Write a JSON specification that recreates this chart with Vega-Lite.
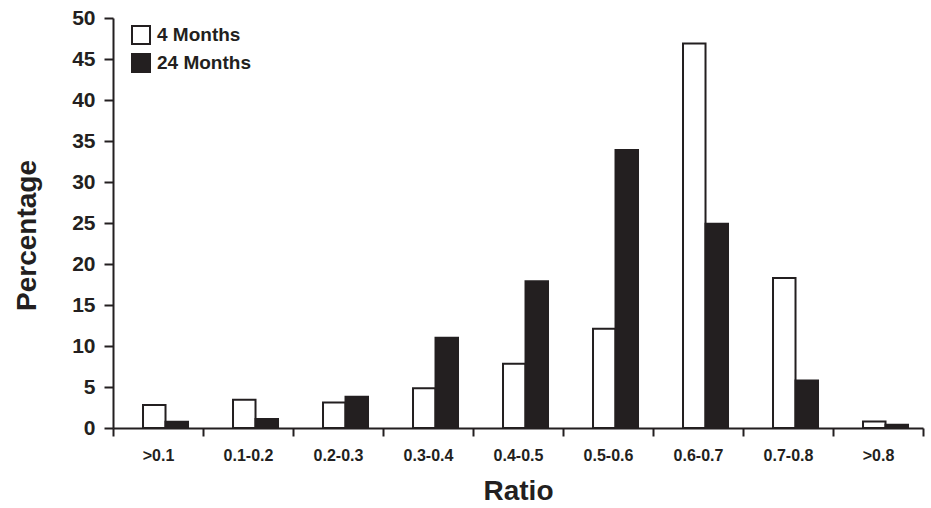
{
  "$schema": "https://vega.github.io/schema/vega-lite/v6.json",
  "width": 810,
  "height": 410,
  "autosize": {"type": "none"},
  "padding": {"left": 113, "top": 18, "right": 8, "bottom": 80},
  "background": "white",
  "config": {
    "view": {"stroke": null},
    "font": "Liberation Sans",
    "axis": {"grid": false, "domainColor": "#231f20", "tickColor": "#231f20", "domainWidth": 2, "tickWidth": 2, "labelColor": "#231f20", "titleColor": "#231f20", "labelFontWeight": "bold", "titleFontWeight": "bold", "labelFont": "Liberation Sans", "titleFont": "Liberation Sans"}
  },
  "data": {
    "values": [
      {"ratio": ">0.1", "group": "4 Months", "pct": 2.8},
      {"ratio": ">0.1", "group": "24 Months", "pct": 0.75},
      {"ratio": "0.1-0.2", "group": "4 Months", "pct": 3.45},
      {"ratio": "0.1-0.2", "group": "24 Months", "pct": 1.1},
      {"ratio": "0.2-0.3", "group": "4 Months", "pct": 3.1},
      {"ratio": "0.2-0.3", "group": "24 Months", "pct": 3.8},
      {"ratio": "0.3-0.4", "group": "4 Months", "pct": 4.85},
      {"ratio": "0.3-0.4", "group": "24 Months", "pct": 11},
      {"ratio": "0.4-0.5", "group": "4 Months", "pct": 7.85},
      {"ratio": "0.4-0.5", "group": "24 Months", "pct": 17.9},
      {"ratio": "0.5-0.6", "group": "4 Months", "pct": 12.1},
      {"ratio": "0.5-0.6", "group": "24 Months", "pct": 33.9},
      {"ratio": "0.6-0.7", "group": "4 Months", "pct": 46.9},
      {"ratio": "0.6-0.7", "group": "24 Months", "pct": 24.9},
      {"ratio": "0.7-0.8", "group": "4 Months", "pct": 18.3},
      {"ratio": "0.7-0.8", "group": "24 Months", "pct": 5.8},
      {"ratio": ">0.8", "group": "4 Months", "pct": 0.8},
      {"ratio": ">0.8", "group": "24 Months", "pct": 0.4}
    ]
  },
  "mark": {"type": "bar", "stroke": "#231f20", "strokeWidth": 2, "strokeJoin": "miter"},
  "encoding": {
    "x": {
      "field": "ratio",
      "type": "nominal",
      "sort": [">0.1", "0.1-0.2", "0.2-0.3", "0.3-0.4", "0.4-0.5", "0.5-0.6", "0.6-0.7", "0.7-0.8", ">0.8"],
      "scale": {"paddingInner": 0, "paddingOuter": 0},
      "axis": {"title": "Ratio", "labelAngle": 0, "tickBand": "extent", "tickSize": 8, "labelFontSize": 16, "labelPadding": 11, "titleFontSize": 28, "titlePadding": 14}
    },
    "xOffset": {
      "field": "group",
      "type": "nominal",
      "sort": ["4 Months", "24 Months"],
      "scale": {"paddingInner": 0, "paddingOuter": 1.31, "align": 0.667}
    },
    "y": {
      "field": "pct",
      "type": "quantitative",
      "scale": {"domain": [0, 50]},
      "axis": {"title": "Percentage", "values": [0, 5, 10, 15, 20, 25, 30, 35, 40, 45, 50], "tickSize": 9, "labelFontSize": 21, "labelPadding": 9, "titleFontSize": 28, "titlePadding": 30, "titleY": 217}
    },
    "color": {
      "field": "group",
      "type": "nominal",
      "sort": ["4 Months", "24 Months"],
      "scale": {"domain": ["4 Months", "24 Months"], "range": ["white", "#231f20"]},
      "legend": {
        "title": null,
        "orient": "none",
        "legendX": 18,
        "legendY": 7,
        "padding": 0,
        "symbolType": "square",
        "symbolSize": 324,
        "symbolStrokeColor": "#231f20",
        "symbolStrokeWidth": 2,
        "labelFontSize": 19,
        "labelFontWeight": "bold",
        "labelColor": "#231f20",
        "labelFont": "Liberation Sans",
        "rowPadding": 2,
        "labelOffset": 6
      }
    }
  }
}
